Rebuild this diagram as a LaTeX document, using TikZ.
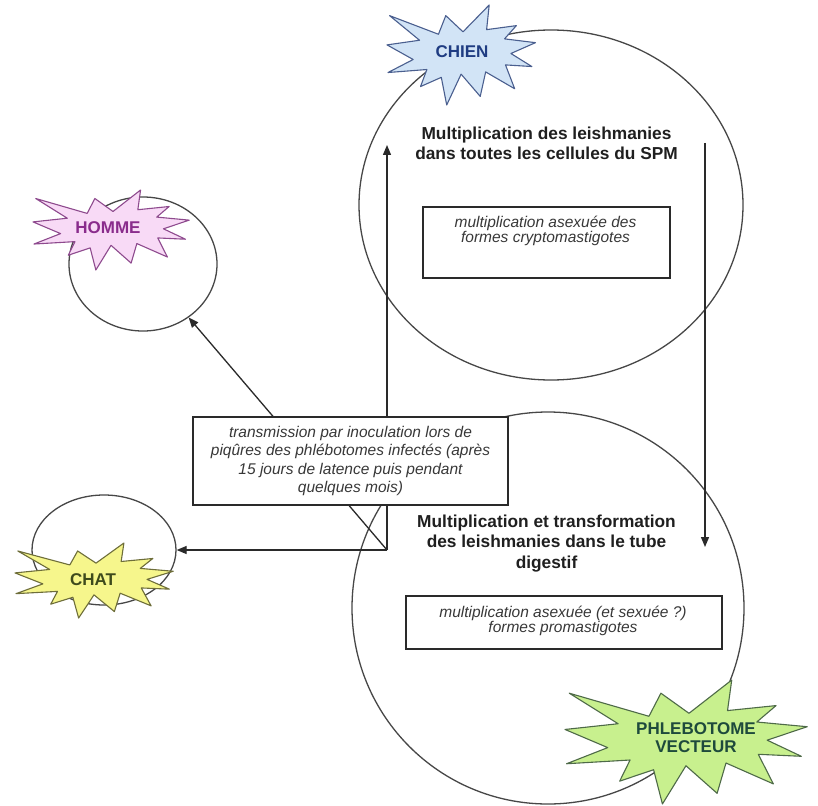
\documentclass[tikz,border=0pt]{standalone}
\usepackage{fontspec}
\setsansfont{Liberation Sans}
\usetikzlibrary{shapes.geometric,arrows.meta}

\definecolor{chienfill}{HTML}{D2E4F6}
\definecolor{chienline}{HTML}{4A5F8F}
\definecolor{chienink}{HTML}{1F3C82}
\definecolor{hommefill}{HTML}{F8DAF6}
\definecolor{hommeline}{HTML}{8E4A8E}
\definecolor{hommeink}{HTML}{8A2C8C}
\definecolor{chatfill}{HTML}{F6F68C}
\definecolor{chatline}{HTML}{6E6E3A}
\definecolor{chatink}{HTML}{3E4A1C}
\definecolor{phlebofill}{HTML}{C8F08E}
\definecolor{phleboline}{HTML}{4E6A48}
\definecolor{phleboink}{HTML}{1E4A3C}
\definecolor{trait}{HTML}{2A2A2A}

% explosion: fill, line, left, top, width, height
\newcommand{\explosion}[6]{%
  \begin{scope}[shift={(#3,#4)},xscale=#5/100,yscale=#6/100]
    \filldraw[fill=#1,draw=#2,line width=1.1pt,line join=round]
      (50,26.85) -- (67.23,0) -- (65.53,24.65) -- (85.09,20.63) -- (77.32,33.87)
      -- (97.67,37.67) -- (81.51,48.50) -- (95.29,61.53) -- (77.95,59.92)
      -- (84.00,83.77) -- (64.91,66.93) -- (61.33,91.38) -- (48.76,69.14)
      -- (39.28,100) -- (35.72,72.35) -- (22.05,81.56) -- (26.24,64.52)
      -- (0.63,67.53) -- (17.23,54.51) -- (0,39.88) -- (21.42,35.26)
      -- (1.71,10.63) -- (33.85,29.26) -- (38.67,10.63) -- cycle;
  \end{scope}}

\begin{document}
\begin{tikzpicture}[x=1pt,y=-1pt,font=\sffamily,
  rond/.style={ellipse,draw=black!72,line width=1.3pt,inner sep=0pt},
  fleche/.style={draw=trait,line width=1.3pt,-{Triangle[length=10pt,width=8pt]}},
  cadre/.style={draw=trait,line width=1.5pt,fill=white,inner sep=0pt},
  titre/.style={font=\sffamily\bfseries\fontsize{17.3}{20.5}\selectfont,text=black!88,align=center,inner sep=0pt},
  remarque/.style={font=\sffamily\itshape\fontsize{15.5}{15}\selectfont,text=black!78,align=center,inner sep=0pt},
  hote/.style={font=\sffamily\bfseries\fontsize{17}{18}\selectfont,align=center,inner sep=0pt}]
 	%frame
 	\fill[white] (0,0) rectangle (818,805);
 	\useasboundingbox (0,0) rectangle (818,805);
 	%circles
 	\node[rond,minimum width=384,minimum height=350] (spm) at (551,205) {};
 	\node[rond,minimum width=392,minimum height=392] (tube) at (548,608) {};
 	\node[rond,minimum width=148,minimum height=134] (hommecircle) at (143,264) {};
 	\node[rond,minimum width=144,minimum height=110] (chatcircle) at (104,550) {};
 	%arrows
 	\coordinate (corner) at (387,550);
 	\coordinate (spmin) at (387,145);
 	\coordinate (spmout) at (705,143);
 	\coordinate (tubein) at (705,547);
 	\draw[fleche] (corner) -- (spmin);
 	\draw[fleche] (spmout) -- (tubein);
 	\draw[fleche] (corner) -- (hommecircle);
 	\draw[fleche] (corner) -- (chatcircle);
 	%boxes
 	\node[cadre,remarque,minimum width=315,minimum height=88,
 	      font=\sffamily\itshape\fontsize{15.5}{18.3}\selectfont] (transmission) at (350.5,461)
 	{
 		transmission par inoculation lors de\\
 		piqûres des phlébotomes infectés (après\\
 		15 jours de latence puis pendant\\
 		quelques mois)
 	};
 	\node[cadre,minimum width=247,minimum height=71,anchor=north west] (crypto) at (422,206) {};
 	\node[remarque,anchor=north] (cryptotext) at (545.5,216)
 	{
 		multiplication asexuée des\\
 		formes cryptomastigotes
 	};
 	\node[cadre,minimum width=316,minimum height=53,anchor=north west] (promasti) at (405,595) {};
 	\node[remarque,anchor=north] (promastitext) at (563,606)
 	{
 		multiplication asexuée (et sexuée ?)\\
 		formes promastigotes
 	};
 	%titles
 	\node[titre,anchor=north] (spmtitle) at (546.5,126.5)
 	{
 		Multiplication des leishmanies\\
 		dans toutes les cellules du SPM
 	};
 	\node[titre,anchor=north] (tubetitle) at (546.5,514.5)
 	{
 		Multiplication et transformation\\
 		des leishmanies dans le tube\\
 		digestif
 	};
 	%hosts
 	\explosion{chienfill}{chienline}{387}{5}{152}{100}
 	\node[hote,text=chienink] (chien) at (462,52) {CHIEN};
 	\explosion{hommefill}{hommeline}{33}{190}{160}{80}
 	\node[hote,text=hommeink] (homme) at (108,228) {HOMME};
 	\explosion{chatfill}{chatline}{15}{543}{162}{75}
 	\node[hote,text=chatink] (chat) at (93,580) {CHAT};
 	\explosion{phlebofill}{phleboline}{565}{680}{248}{124}
 	\node[hote,text=phleboink] (phlebo) at (696,738) {PHLEBOTOME\\VECTEUR};
\end{tikzpicture}
\end{document}
